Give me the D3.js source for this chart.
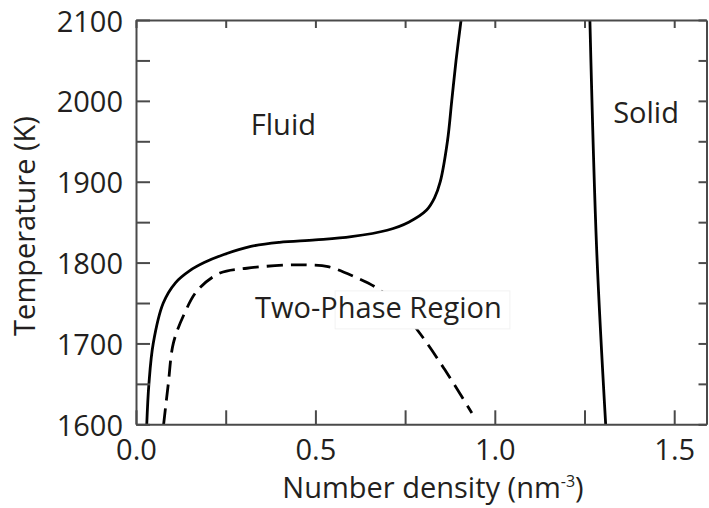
<!DOCTYPE html>
<html>
<head>
<meta charset="utf-8">
<script src="https://cdn.jsdelivr.net/npm/d3@7"></script>
<style>
  html, body { margin: 0; padding: 0; background: #fff; }
  svg { display: block; }
  text { font-family: "Open Sans", "Noto Sans", sans-serif; fill: #231f20; }
</style>
</head>
<body>
<svg id="chart" width="709" height="508"></svg>
<script>
// ---- Data ----
// Fluid-side coexistence boundary (solid line): density (nm^-3), temperature (K)
const fluidRho  = [0.030, 0.036, 0.048, 0.076, 0.110, 0.150, 0.190, 0.245, 0.320, 0.400, 0.500, 0.600, 0.700, 0.760, 0.810, 0.832, 0.848, 0.868, 0.880, 0.892, 0.906];
const fluidT    = [1600,  1650,  1700,  1750,  1775,  1790,  1800,  1810,  1820,  1825,  1828,  1832,  1840,  1850,  1865,  1880,  1900,  1950,  2000,  2050,  2100];
// Two-phase dashed curve
const dashRho   = [0.077, 0.090, 0.104, 0.135, 0.172, 0.234, 0.309, 0.420, 0.480, 0.535, 0.606, 0.680, 0.740, 0.792, 0.860, 0.936];
const dashT     = [1600,  1650,  1700,  1737,  1766,  1787,  1793,  1797,  1797,  1795,  1783,  1766,  1741,  1712,  1668,  1614];
// Solid-side boundary (solid line)
const solidRho  = [1.265, 1.284, 1.309];
const solidT    = [2100,  1815,  1600];

const xTicks = [0, 0.25, 0.5, 0.75, 1.0, 1.25, 1.5];
const xTickLabels = ["0.0", "", "0.5", "", "1.0", "", "1.5"];
const yTicks = [1600, 1650, 1700, 1750, 1800, 1850, 1900, 1950, 2000, 2050, 2100];
const yTickLabels = ["1600", "", "1700", "", "1800", "", "1900", "", "2000", "", "2100"];

const xDomain = [0, 1.59];
const yDomain = [1600, 2100];

const regionLabels = [
  { text: "Fluid", rho: 0.320, T: 1958 },
  { text: "Solid", rho: 1.330, T: 1973 },
  { text: "Two-Phase Region", rho: 0.332, T: 1731 }
];
// white label box behind part of "Two-Phase Region" (data coords)
const boxRho = [0.555, 1.042];
const boxT = [1765, 1718];

// ---- Layout ----
const svg = d3.select("#chart");
const L = 136, R = 706.5, T = 20, B = 424.3;
const x = d3.scaleLinear().domain(xDomain).range([L, R]);
const y = d3.scaleLinear().domain(yDomain).range([B, T]);

svg.append("defs").append("clipPath").attr("id", "plotclip")
  .append("rect").attr("x", L).attr("y", T).attr("width", R - L).attr("height", B - T);

const plot = svg.append("g").attr("clip-path", "url(#plotclip)");

const line = d3.line()
  .x(d => x(d[0])).y(d => y(d[1]))
  .curve(d3.curveCatmullRom.alpha(0.5));

const fluidPts = fluidRho.map((r, i) => [r, fluidT[i]]);
const dashPts = dashRho.map((r, i) => [r, dashT[i]]);
const solidPts = solidRho.map((r, i) => [r, solidT[i]]);

plot.append("path").attr("d", line(dashPts))
  .attr("fill", "none").attr("stroke", "#000").attr("stroke-width", 2.8)
  .attr("stroke-dasharray", "16,8");

plot.append("rect")
  .attr("x", x(boxRho[0])).attr("y", y(boxT[0]))
  .attr("width", x(boxRho[1]) - x(boxRho[0])).attr("height", y(boxT[1]) - y(boxT[0]))
  .attr("fill", "#fff").attr("stroke", "#f2f2f2").attr("stroke-width", 1);

plot.append("path").attr("d", line(fluidPts))
  .attr("fill", "none").attr("stroke", "#000").attr("stroke-width", 2.8);
plot.append("path").attr("d", line(solidPts))
  .attr("fill", "none").attr("stroke", "#000").attr("stroke-width", 2.8);

// ---- Axes ----
const axisColor = "#4a4a4a";
function styleAxis(g) {
  g.attr("font-family", null).attr("font-size", null);
  g.select(".domain").attr("stroke", axisColor).attr("stroke-width", 2);
  g.selectAll(".tick line").attr("stroke", axisColor).attr("stroke-width", 2);
  g.selectAll(".tick text").attr("fill", "#231f20").style("font-size", "29px");
}

svg.append("g").attr("transform", `translate(0,${B})`)
  .call(d3.axisBottom(x).tickValues(xTicks).tickSize(-14).tickSizeOuter(0).tickPadding(15)
    .tickFormat((d, i) => xTickLabels[i]))
  .call(styleAxis);

svg.append("g").attr("transform", `translate(${L},0)`)
  .call(d3.axisLeft(y).tickValues(yTicks).tickSize(-14).tickSizeOuter(0).tickPadding(13)
    .tickFormat((d, i) => yTickLabels[i]))
  .call(styleAxis)
  .call(g => g.selectAll(".tick text").attr("dy", "0.38em"));

svg.append("g").attr("transform", `translate(0,${T})`)
  .call(d3.axisTop(x).tickValues(xTicks).tickSize(-8).tickSizeOuter(0).tickFormat(""))
  .call(styleAxis);

svg.append("g").attr("transform", `translate(${R},0)`)
  .call(d3.axisRight(y).tickValues(yTicks).tickSize(-8).tickSizeOuter(0).tickFormat(""))
  .call(styleAxis);

// ---- Region labels ----
svg.selectAll("text.region").data(regionLabels).join("text")
  .attr("class", "region")
  .attr("x", d => x(d.rho)).attr("y", d => y(d.T))
  .style("font-size", "29px")
  .text(d => d.text);

// ---- Axis titles ----
svg.append("text")
  .attr("transform", `translate(35,${226}) rotate(-90)`)
  .attr("text-anchor", "middle")
  .style("font-size", "29px")
  .text("Temperature (K)");

const xt = svg.append("text")
  .attr("x", 433).attr("y", 498)
  .attr("text-anchor", "middle")
  .style("font-size", "29px");
xt.append("tspan").text("Number density (nm");
xt.append("tspan").attr("dy", -11).style("font-size", "16px").text("-3");
xt.append("tspan").attr("dy", 11).text(")");
</script>
</body>
</html>
